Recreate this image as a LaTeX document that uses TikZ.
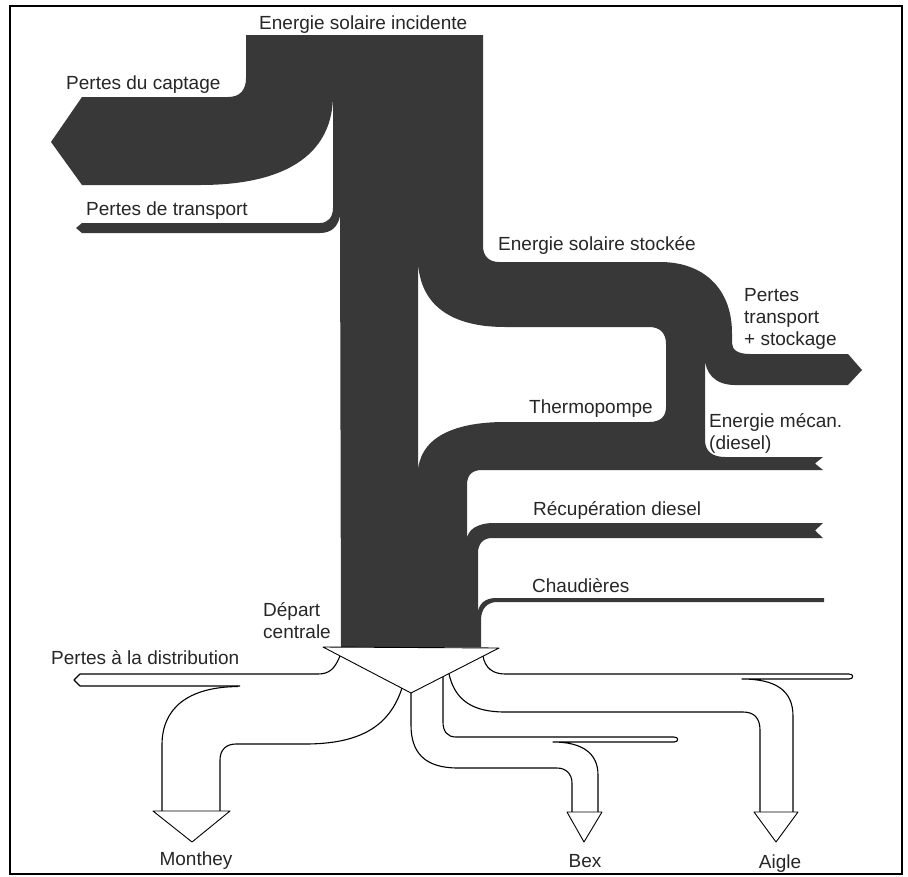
\documentclass[tikz,border=0pt]{standalone}
\usepackage{fontspec}
\setmainfont{Liberation Sans}
\definecolor{ink}{HTML}{383838}
\begin{document}
\begin{tikzpicture}[x=1pt,y=-1pt,
  lbl/.style={font=\fontsize{19}{22}\selectfont, inner sep=0pt, text=black!85},
  darkband/.style={fill=ink, draw=none, even odd rule},
  outl/.style={draw=black, line width=1.1pt, line join=round},
  headtri/.style={draw=black, line width=0.9pt, fill=white, line join=round}]
\useasboundingbox (0,0) rectangle (908,876);
\draw[line width=1.5pt] (10,6) rectangle (902,874);

% main dark flow
\path[darkband]
  (246,35) -- (483,35) -- (483,246)
  .. controls (483,256) and (489,262) .. (499,262) -- (660,262)
  .. controls (705,262) and (732,290) .. (732,333) -- (732,343)
  .. controls (732,350) and (738,354) .. (750,354) -- (848,354) -- (862,370) -- (848,385)
  -- (735,385) .. controls (714,385) and (705,372) .. (705,358) -- (705,440)
  .. controls (705,451) and (712,457) .. (725,457) -- (823,457) -- (815,463.5) -- (823,470)
  -- (482,470) .. controls (472,470) and (467,475) .. (467,485) -- (467,540)
  .. controls (467,530) and (477,523) .. (494,523) -- (823,523) -- (815,530.5) -- (823,538)
  -- (492,538) .. controls (483,538) and (478,544) .. (478,553) -- (478,614)
  .. controls (478,604) and (485,598) .. (496,598) -- (824,598) -- (824,602) -- (497,602)
  .. controls (488,602) and (481,608) .. (481,620) -- (481,647)
  -- (341,647) -- (340,216)
  .. controls (338,226) and (332,233) .. (320,233) -- (82,233) -- (76,228) -- (82,223) -- (320,223)
  .. controls (328,223) and (333,217) .. (333,208) -- (333,95)
  .. controls (333,150) and (292,185) .. (200,185) -- (82,185) -- (51,142) -- (82,97) -- (228,97)
  .. controls (240,97) and (246,90) .. (246,78) -- cycle
  (418,258) .. controls (418,300) and (445,327) .. (505,327) -- (649,327)
  .. controls (660,327) and (666,333) .. (666,344) -- (666,407)
  .. controls (666,417) and (660,422) .. (649,422) -- (505,422)
  .. controls (450,422) and (418,440) .. (418,474) -- cycle;

% distribution (outlined white flows)
\draw[headtri] (323,647) -- (499,648) -- (411,693) -- cycle;
% pertes a la distribution + Monthey
\draw[outl] (340,656) .. controls (335,668) and (330,674) .. (318,674) -- (80,674) -- (74,680) -- (80,686) -- (240,686);
\draw[outl] (238,686.5) .. controls (188,687) and (162,708) .. (162,745) -- (162,811);
\draw[outl] (402,688) .. controls (390,725) and (362,744) .. (305,744) -- (236,744)
  .. controls (226,744) and (220,750) .. (220,760) -- (220,811);
\draw[headtri] (153,811) -- (230,811) -- (192,842) -- cycle;
% Bex
\draw[outl] (411,693) -- (411,725) .. controls (411,753) and (425,768) .. (458,768) -- (557,768)
  .. controls (566,768) and (572,774) .. (572,783) -- (572,812);
\draw[outl] (598,812) -- (598,775) .. controls (598,753) and (582,742) .. (553,742) -- (674,742)
  .. controls (679,742) and (679,737) .. (674,737) -- (456,737)
  .. controls (447,737) and (443,731) .. (443,722) -- (443,677);
\draw[headtri] (567,812) -- (602,812) -- (584,842) -- cycle;
% Aigle
\draw[outl] (449,674) .. controls (455,700) and (472,712) .. (505,712) -- (743,712)
  .. controls (754,712) and (760,718) .. (760,730) -- (760,812);
\draw[outl] (793,812) -- (793,716) .. controls (793,690) and (775,679) .. (742,679) -- (849,679)
  .. controls (854,679) and (854,674) .. (849,674) -- (505,674)
  .. controls (493,674) and (485,668) .. (483,656);
\draw[headtri] (754,812) -- (798,812) -- (776,842) -- cycle;

% labels
\node[lbl, anchor=base west] (incid) at (259,29) {Energie solaire incidente};
\node[lbl, anchor=base west] (capt) at (66,89) {Pertes du captage};
\node[lbl, anchor=base west] (transp) at (86,215) {Pertes de transport};
\node[lbl, anchor=base west] (stock) at (498,250) {Energie solaire stockée};
\node[lbl, anchor=north west, align=left] (ptstock) at (744,288) {Pertes\\transport\\+ stockage};
\node[lbl, anchor=base west] (thermo) at (529,413) {Thermopompe};
\node[lbl, anchor=north west, align=left] (mecan) at (709,413) {Energie mécan.\\(diesel)};
\node[lbl, anchor=base west] (recup) at (533,515) {Récupération diesel};
\node[lbl, anchor=base west] (chaud) at (532,592) {Chaudières};
\node[lbl, anchor=north west, align=left] (depart) at (263,602) {Départ\\centrale};
\node[lbl, anchor=base west] (distr) at (51,664) {Pertes à la distribution};
\node[lbl, anchor=base] (monthey) at (196,865) {Monthey};
\node[lbl, anchor=base] (bex) at (585,867) {Bex};
\node[lbl, anchor=base] (aigle) at (780,868) {Aigle};
\end{tikzpicture}
\end{document}
